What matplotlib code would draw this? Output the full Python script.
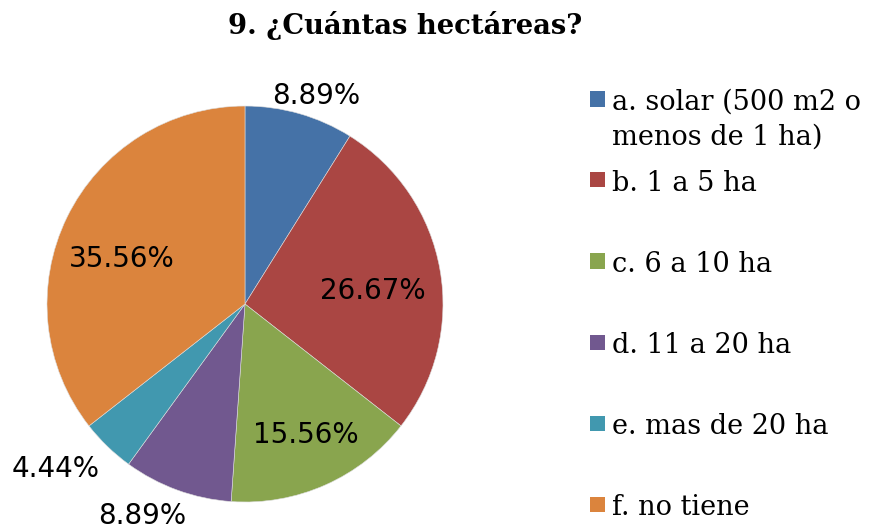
import numpy as np
import matplotlib.pyplot as plt
from matplotlib.patches import Rectangle

# datos del grafico
categorias = ["a. solar (500 m2 o\nmenos de 1 ha)", "b. 1 a 5 ha", "c. 6 a 10 ha",
              "d. 11 a 20 ha", "e. mas de 20 ha", "f. no tiene"]
porcentajes = [8.89, 26.67, 15.56, 8.89, 4.44, 35.56]
colores = ["#4572A7", "#AA4643", "#89A54E", "#71588F", "#4198AF", "#DB843D"]

# posicion de cada etiqueta (radio, angulo) respecto al centro del pastel
etiq_pos = [(1.11, 71), (0.65, 6), (0.73, -65), (1.19, -116), (1.27, -139), (0.66, 160)]

fig = plt.figure(figsize=(8.77, 5.29), dpi=100)
ax = fig.add_axes([0.0536, 0.0510, 0.4515, 0.7486])

wedges, textos = ax.pie(porcentajes, colors=colores, startangle=90, counterclock=False,
                        wedgeprops=dict(linewidth=0.4, edgecolor="#dddddd"))
ax.set_xlim(-1, 1)
ax.set_ylim(-1, 1)
ax.set_aspect("equal")

for val, (r, ang) in zip(porcentajes, etiq_pos):
    t = np.deg2rad(ang)
    ax.text(r * np.cos(t), r * np.sin(t), "%.2f%%" % val, ha="center", va="center",
            fontsize=20, family="DejaVu Sans", color="black", clip_on=False)

fig.text(405 / 877, 1 - 26 / 529, "9. ¿Cuántas hectáreas?", ha="center", va="center",
         fontsize=19.7, fontweight="bold", family="DejaVu Serif")

# leyenda hecha a mano (cuadro alineado con la primera linea)
for i, (lab, col) in enumerate(zip(categorias, colores)):
    yc = 99 + 81 * i
    fig.add_artist(Rectangle((590 / 877, 1 - (yc + 7.5) / 529), 15 / 877, 15 / 529,
                             transform=fig.transFigure, facecolor=col, edgecolor="none"))
    for k, linea in enumerate(lab.split("\n")):
        fig.text(612 / 877, 1 - (yc + 11 + 35 * k) / 529, linea, ha="left", va="baseline",
                 fontsize=19.5, family="DejaVu Serif")

fig.savefig("out.png", dpi=100)
